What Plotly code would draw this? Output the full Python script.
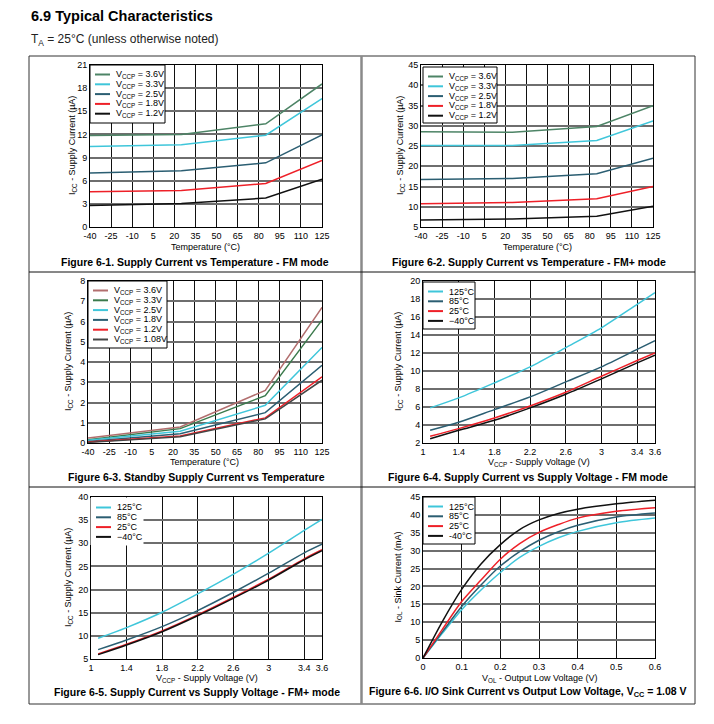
import plotly.graph_objects as go

W, H = 714, 724

# ---------------- DATA ----------------
temp_x = [-40, 25, 85, 125]
temp_ticks = [-40, -25, -10, 5, 20, 35, 50, 65, 80, 95, 110, 125]

vccp5_names = ["3.6V", "3.3V", "2.5V", "1.8V", "1.2V"]
fm_temp = {
    "3.6V": [11.86, 12.0, 13.37, 18.54],
    "3.3V": [10.44, 10.65, 11.9, 16.65],
    "2.5V": [7.0, 7.29, 8.32, 11.95],
    "1.8V": [4.57, 4.74, 5.65, 8.62],
    "1.2V": [2.8, 3.06, 3.75, 6.2],
}
fmp_temp = {
    "3.6V": [28.49, 28.4, 29.8, 34.98],
    "3.3V": [25.1, 25.1, 26.35, 31.2],
    "2.5V": [16.75, 17.0, 18.14, 22.0],
    "1.8V": [10.75, 11.08, 11.98, 15.0],
    "1.2V": [6.72, 6.97, 7.63, 10.1],
}
vccp6_names = ["3.6V", "3.3V", "2.5V", "1.8V", "1.2V", "1.08V"]
stby_temp = {
    "3.6V": [0.25, 0.79, 2.6, 6.7],
    "3.3V": [0.16, 0.71, 2.34, 6.07],
    "2.5V": [0.13, 0.58, 1.86, 4.72],
    "1.8V": [0.08, 0.46, 1.5, 3.84],
    "1.2V": [0.05, 0.35, 1.24, 3.27],
    "1.08V": [0.03, 0.31, 1.19, 3.1],
}

volt_x = [1.08, 1.4, 1.8, 2.2, 2.6, 3.0, 3.4, 3.6]
volt_ticks = [1, 1.4, 1.8, 2.2, 2.6, 3, 3.4, 3.6]
temp_names = ["125°C", "85°C", "25°C", "−40°C"]
fm_volt = {
    "125°C": [5.9, 7.01, 8.68, 10.46, 12.6, 14.8, 17.4, 18.7],
    "85°C": [3.41, 4.3, 5.71, 7.12, 8.79, 10.46, 12.4, 13.36],
    "25°C": [2.74, 3.6, 4.78, 6.12, 7.64, 9.42, 11.17, 12.02],
    "−40°C": [2.48, 3.41, 4.52, 5.9, 7.42, 9.13, 10.9, 11.76],
}
fmp_volt = {
    "125°C": [9.47, 11.78, 15.1, 19.07, 23.3, 27.87, 32.78, 35.16],
    "85°C": [7.02, 9.11, 12.0, 15.46, 19.36, 23.54, 27.94, 29.8],
    "25°C": [6.08, 8.17, 11.06, 14.52, 18.28, 22.24, 26.65, 28.6],
    "−40°C": [5.94, 8.03, 10.9, 14.35, 18.1, 22.05, 26.45, 28.4],
}

vol_x = [0, 0.05, 0.1, 0.15, 0.2, 0.25, 0.3, 0.35, 0.4, 0.5, 0.6]
sink_names = ["125°C", "85°C", "25°C", "-40°C"]
sink = {
    "125°C": [0, 6.9, 13.5, 19.0, 23.9, 28.1, 31.2, 33.6, 35.4, 37.8, 39.1],
    "85°C": [0, 7.3, 14.4, 20.4, 25.7, 29.7, 32.9, 35.3, 37.1, 39.4, 40.5],
    "25°C": [0, 8.0, 15.8, 21.8, 27.6, 32.0, 35.1, 37.3, 39.1, 41.0, 42.0],
    "-40°C": [0, 10.2, 19.2, 26.3, 31.7, 35.9, 38.6, 40.4, 41.6, 43.1, 44.1],
}

GREEN = "#4d8466"
CYAN = "#3fc6da"
TEAL = "#2b5e72"
RED = "#ee2028"
BLACK = "#111111"
ROSE = "#b26e6e"
DGREEN = "#3b7a4c"
DGRAY = "#454545"

colors5 = [GREEN, CYAN, TEAL, RED, BLACK]
colors6 = [ROSE, DGREEN, CYAN, TEAL, RED, DGRAY]
colors4 = [CYAN, TEAL, RED, BLACK]

# ---------------- LAYOUT HELPERS ----------------
FONT = "Liberation Sans, Arial, sans-serif"

def px(x):
    return x / W

def py(y):
    return 1 - y / H

# plot areas in pixels: (x0, y0, x1, y1)
boxes = [
    (90, 65, 322, 227),
    (421, 65, 653, 227),
    (88, 281, 322, 443),
    (423, 281, 655, 443),
    (91, 497, 322, 659),
    (423, 497, 655, 658),
]

fig = go.Figure()
annotations = []
shapes = []

def add_series(i, xs, data, names, colors, shape="linear"):
    ax = "" if i == 1 else str(i)
    for n, c in zip(names, colors):
        fig.add_trace(go.Scatter(
            x=xs, y=data[n], mode="lines", name=n,
            line=dict(color=c, width=1.5, shape=shape, smoothing=0.8),
            xaxis="x" + ax, yaxis="y" + ax, showlegend=False, hoverinfo="skip"))

add_series(1, temp_x, fm_temp, vccp5_names, colors5)
add_series(2, temp_x, fmp_temp, vccp5_names, colors5)
add_series(3, temp_x, stby_temp, vccp6_names, colors6)
add_series(4, volt_x, fm_volt, temp_names, colors4, "spline")
add_series(5, volt_x, fmp_volt, temp_names, colors4, "spline")
add_series(6, vol_x, sink, sink_names, colors4, "spline")

def fmt(v):
    return "%g" % v

axis_specs = [
    (temp_ticks, [-40, 125], list(range(0, 22, 3)), [0, 21]),
    (temp_ticks, [-40, 125], list(range(5, 46, 5)), [5, 45]),
    (temp_ticks, [-40, 125], list(range(0, 9, 1)), [0, 8]),
    (volt_ticks, [1, 3.6], list(range(2, 21, 2)), [2, 20]),
    (volt_ticks, [1, 3.6], list(range(5, 41, 5)), [5, 40]),
    ([0, 0.1, 0.2, 0.3, 0.4, 0.5, 0.6], [0, 0.6], list(range(0, 46, 5)), [0, 45]),
]

layout = dict(
    width=W, height=H, margin=dict(l=0, r=0, t=0, b=0, autoexpand=False),
    paper_bgcolor="white", plot_bgcolor="white",
    font=dict(family=FONT, size=9, color="black"),
)

for i, ((xt, xr, yt, yr), (x0, y0, x1, y1)) in enumerate(zip(axis_specs, boxes), start=1):
    ax = "" if i == 1 else str(i)
    layout["xaxis" + ax] = dict(
        domain=[px(x0), px(x1)], range=xr, anchor="y" + ax,
        tickvals=xt, ticktext=[fmt(v) for v in xt],
        showgrid=True, gridcolor="#111111", gridwidth=1,
        showline=True, linecolor="black", linewidth=1, mirror=True,
        zeroline=False, ticks="", ticklen=0, automargin=False,
        tickfont=dict(size=9, color="black", family=FONT),
    )
    layout["yaxis" + ax] = dict(
        domain=[py(y1), py(y0)], range=yr, anchor="x" + ax,
        tickvals=yt, ticktext=[fmt(v) for v in yt],
        showgrid=True, gridcolor="#6e6e6e", gridwidth=2,
        showline=True, linecolor="black", linewidth=1, mirror=True,
        zeroline=False, ticks="", ticklen=0, automargin=False,
        tickfont=dict(size=9, color="black", family=FONT),
    )

# ---------------- LEGENDS (custom, compact) ----------------
def legend(box, labels, colors, border=True):
    bx0, by0, bx1, by1 = box
    shapes.append(dict(type="rect", xref="paper", yref="paper",
                       x0=px(bx0), x1=px(bx1), y0=py(by1), y1=py(by0),
                       fillcolor="white",
                       line=dict(color="black" if border else "white", width=1),
                       layer="above"))
    for k, (lab, c) in enumerate(zip(labels, colors)):
        yc = by0 + 9.5 + 9.8 * k
        shapes.append(dict(type="line", xref="paper", yref="paper",
                           x0=px(bx0 + 5), x1=px(bx0 + 20), y0=py(yc), y1=py(yc),
                           line=dict(color=c, width=2), layer="above"))
        annotations.append(dict(xref="paper", yref="paper", x=px(bx0 + 24), y=py(yc),
                                text=lab, showarrow=False, xanchor="left", yanchor="middle",
                                font=dict(size=9, family=FONT, color="black")))

vlab5 = ["V<sub>CCP</sub> = " + n for n in vccp5_names]
vlab6 = ["V<sub>CCP</sub> = " + n for n in vccp6_names]
legend((90, 65, 165, 123), vlab5, colors5)
legend((423, 67, 497, 123), vlab5, colors5)
legend((88, 281, 167, 348), vlab6, colors6)
legend((423, 282, 475, 329), temp_names, colors4)
legend((91, 498, 143, 545), temp_names, colors4, border=False)
legend((423, 497, 475, 544), sink_names, colors4)

# ---------------- AXIS TITLES ----------------
xtitles = ["Temperature (°C)", "Temperature (°C)", "Temperature (°C)",
           "V<sub>CCP</sub> - Supply Voltage (V)", "V<sub>CCP</sub> - Supply Voltage (V)",
           "V<sub>OL</sub> - Output Low Voltage (V)"]
ytitles = ["I<sub>CC</sub> - Supply Current (µA)"] * 5 + ["I<sub>OL</sub> - Sink Current (mA)"]
xtitle_y = [247, 247, 462, 462, 678, 678]
ytitle_x = [72, 400, 68, 398, 68, 398]
for (x0, y0, x1, y1), xt, yt, ty, tx in zip(boxes, xtitles, ytitles, xtitle_y, ytitle_x):
    annotations.append(dict(xref="paper", yref="paper", x=px((x0 + x1) / 2), y=py(ty),
                            text=xt, showarrow=False, xanchor="center", yanchor="middle",
                            font=dict(size=9, family=FONT, color="black")))
    annotations.append(dict(xref="paper", yref="paper", x=px(tx), y=py((y0 + y1) / 2),
                            text=yt, showarrow=False, xanchor="center", yanchor="middle",
                            textangle=-90, font=dict(size=9, family=FONT, color="black")))

# ---------------- CAPTIONS ----------------
captions = [
    ("Figure 6-1. Supply Current vs Temperature - FM mode", 195, 262),
    ("Figure 6-2. Supply Current vs Temperature - FM+ mode", 529, 262),
    ("Figure 6-3. Standby Supply Current vs Temperature", 196, 477),
    ("Figure 6-4. Supply Current vs Supply Voltage - FM mode", 528, 477),
    ("Figure 6-5. Supply Current vs Supply Voltage - FM+ mode", 197, 692),
    ("Figure 6-6. I/O Sink Current vs Output Low Voltage, V<sub>CC</sub> = 1.08 V", 528, 692),
]
for t, cx, cy in captions:
    annotations.append(dict(xref="paper", yref="paper", x=px(cx), y=py(cy), text="<b>" + t + "</b>",
                            showarrow=False, xanchor="center", yanchor="middle",
                            font=dict(size=10.5, family=FONT, color="black")))

# ---------------- HEADER ----------------
annotations.append(dict(xref="paper", yref="paper", x=px(29), y=py(16),
                        text="<b>6.9 Typical Characteristics</b>", showarrow=False,
                        xanchor="left", yanchor="middle",
                        font=dict(size=14.5, family=FONT, color="black")))
annotations.append(dict(xref="paper", yref="paper", x=px(29), y=py(40),
                        text="T<sub>A</sub> = 25°C (unless otherwise noted)", showarrow=False,
                        xanchor="left", yanchor="middle",
                        font=dict(size=12, family=FONT, color="#222222")))

# ---------------- FRAME ----------------
frame = [
    (29, 56, 695, 56, "#333333", 1),
    (29, 56, 29, 704, "#333333", 1),
    (695, 56, 695, 704, "#333333", 1),
    (29, 704, 695, 704, "#333333", 1),
    (361.5, 56, 361.5, 704, "#8a8a8a", 2.5),
    (29, 272, 695, 272, "#111111", 1),
    (29, 487, 695, 487, "#111111", 1),
]
for fx0, fy0, fx1, fy1, c, w in frame:
    shapes.append(dict(type="line", xref="paper", yref="paper",
                       x0=px(fx0), y0=py(fy0), x1=px(fx1), y1=py(fy1),
                       line=dict(color=c, width=w)))

layout["annotations"] = annotations
layout["shapes"] = shapes
fig.update_layout(**layout)
fig.write_html(
    "out.html",
    config={"displayModeBar": False, "responsive": False},
    post_script="document.body.style.margin='0px';document.body.style.padding='0px';"
                "document.body.style.overflow='hidden';",
)
